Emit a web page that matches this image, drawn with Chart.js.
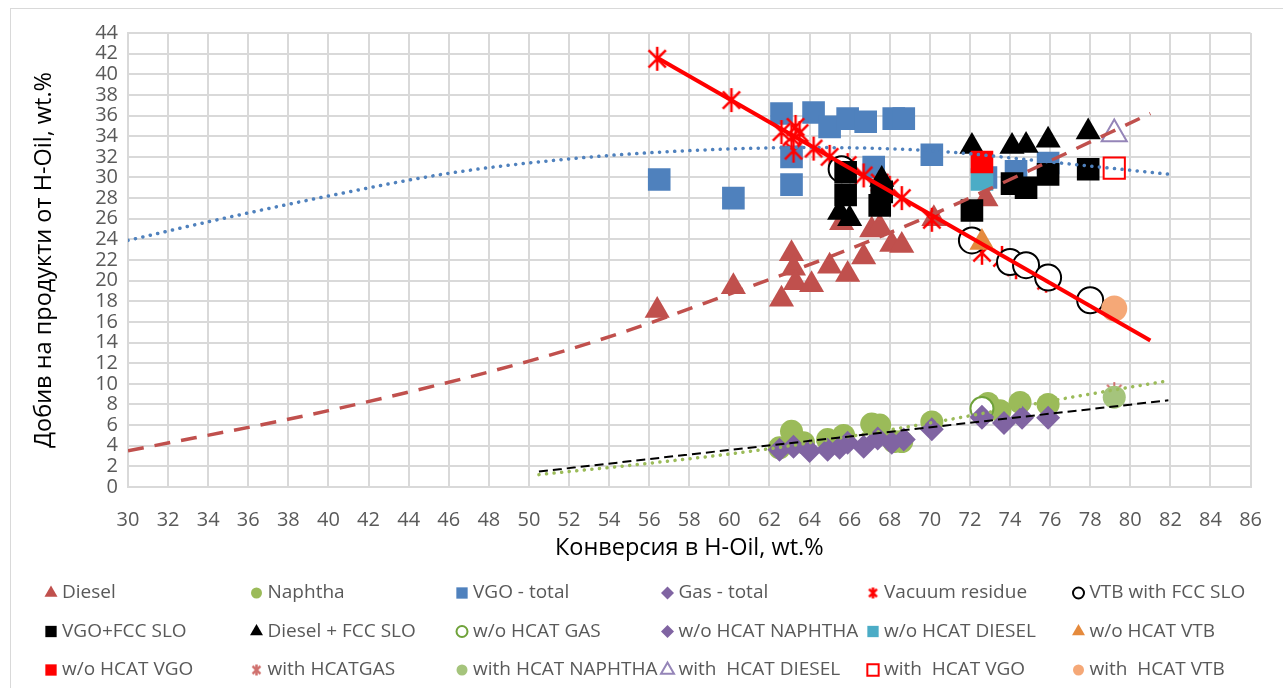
<!DOCTYPE html>
<html>
<head>
<meta charset="utf-8">
<script src="https://cdn.jsdelivr.net/npm/chart.js@4.4.1/dist/chart.umd.min.js"></script>
<style>
  html, body { margin: 0; padding: 0; background: #fff; }
</style>
</head>
<body>
<canvas id="myChart" width="1283" height="688"></canvas>
<script>
// values: conversion (x) and yield (y)
const dieselX = [56.4, 60.2, 62.6, 63.1, 63.2, 63.3, 64.1, 65.0, 65.6, 65.9, 66.7, 67.1, 67.5, 68.1, 68.6, 70.2, 72.8];
const dieselY = [17.1, 19.4, 18.2, 22.6, 21.2, 19.8, 19.6, 21.4, 25.6, 20.6, 22.3, 24.9, 25.2, 23.5, 23.4, 26.0, 27.9];

const naphthaX = [62.5, 63.1, 63.7, 64.9, 65.7, 67.1, 67.5, 68.2, 68.6, 70.1, 72.9, 73.5, 74.5, 75.9];
const naphthaY = [3.8, 5.4, 4.3, 4.6, 5.0, 6.1, 6.0, 4.4, 4.4, 6.3, 8.1, 7.4, 8.2, 8.0];

const vgoX = [56.5, 60.2, 62.6, 63.1, 63.1, 64.2, 65.0, 65.9, 66.8, 67.2, 68.2, 68.7, 70.1, 72.8, 74.3, 75.9];
const vgoY = [29.8, 28.0, 36.2, 29.3, 32.0, 36.3, 34.9, 35.7, 35.4, 31.0, 35.7, 35.7, 32.2, 30.0, 30.6, 31.4];

const gasX = [62.5, 63.2, 64.0, 64.9, 65.5, 65.9, 66.7, 67.4, 68.1, 68.7, 70.1, 72.6, 73.7, 74.6, 75.9];
const gasY = [3.6, 3.9, 3.5, 3.6, 3.8, 4.3, 3.9, 4.7, 4.3, 4.6, 5.6, 6.7, 6.2, 6.7, 6.7];

const vrX = [56.4, 60.1, 62.6, 63.1, 63.2, 63.3, 63.5, 64.2, 65.0, 65.9, 66.7, 67.5, 68.0, 68.6, 70.1, 72.6, 73.6, 74.3, 75.8];
const vrY = [41.5, 37.5, 34.4, 33.9, 32.6, 34.9, 34.3, 32.8, 32.0, 31.2, 30.2, 29.5, 29.0, 28.0, 25.9, 22.7, 22.2, 21.3, 20.0];

const vtbX = [65.6, 72.1, 74.0, 74.8, 75.9, 78.0];
const vtbY = [30.8, 23.9, 21.8, 21.5, 20.3, 18.1];

const vgoSloX = [65.8, 65.8, 67.5, 67.6, 72.1, 74.1, 74.8, 75.9, 77.9];
const vgoSloY = [30.5, 28.3, 27.3, 28.6, 26.8, 29.4, 29.0, 30.3, 30.8];

const dieselSloX = [65.5, 66.0, 67.6, 72.1, 74.1, 74.8, 75.9, 77.9];
const dieselSloY = [26.6, 26.0, 29.8, 33.0, 33.0, 33.1, 33.6, 34.4];

const woX = [72.6];
const woGasY = [7.6];
const woNaphthaY = [6.8];
const woDieselY = [29.8];
const woVtbY = [23.7];
const woVgoY = [31.5];

const withX = [79.2];
const withGasY = [9.2];
const withNaphthaY = [8.7];
const withDieselY = [34.2];
const withVgoY = [30.9];
const withVtbY = [17.3];

// trend lines, points
const trendDieselX = [30, 40, 50, 55, 60, 65, 70, 75, 81];
const trendDieselY = [3.5, 7.4, 12.2, 15.2, 18.7, 22.3, 26.3, 30.7, 36.2];
const trendVgoX = [30, 34, 40, 46, 52, 58, 64, 70, 76, 82];
const trendVgoY = [23.9, 25.7, 28.2, 30.4, 31.8, 32.6, 32.9, 32.6, 31.5, 30.3];
const trendNaphthaX = [50.5, 56, 61.6, 66, 70, 76.2, 81.9];
const trendNaphthaY = [1.2, 2.3, 3.6, 4.9, 6.2, 8.4, 10.3];
const trendGasX = [50.5, 81.9];
const trendGasY = [1.5, 8.4];
const trendVrX = [56.4, 81];
const trendVrY = [41.6, 14.2];

const FONT = "'Open Sans', 'Noto Sans', sans-serif";

function pts(xs, ys) {
  return xs.map((x, i) => ({ x: x, y: ys[i] }));
}

function asterisk(color, size, lw) {
  const c = document.createElement('canvas');
  c.width = size;
  c.height = size;
  const g = c.getContext('2d');
  g.strokeStyle = color;
  g.lineWidth = lw;
  const m = size / 2, r = size / 2 - 1, d = r * 0.72;
  g.beginPath();
  g.moveTo(m, m - r); g.lineTo(m, m + r);
  g.moveTo(m - d, m - d); g.lineTo(m + d, m + d);
  g.moveTo(m + d, m - d); g.lineTo(m - d, m + d);
  g.stroke();
  return c;
}

function marker(label, data, style, radius, fill, stroke, bw, legendStyle) {
  return {
    label: label,
    data: data,
    pointStyle: style,
    pointRadius: radius,
    backgroundColor: fill,
    borderColor: stroke,
    borderWidth: bw,
    showLine: false,
    legendStyle: legendStyle || style
  };
}

function trend(data, color, width, dash, cap) {
  return {
    label: '',
    data: data,
    showLine: true,
    pointRadius: 0,
    borderColor: color,
    borderWidth: width,
    borderDash: dash,
    borderCapStyle: cap,
    cubicInterpolationMode: 'monotone'
  };
}

const markers = [
  marker('Diesel', pts(dieselX, dieselY), 'triangle', 14.5, '#C0504D', '#C0504D', 0),
  marker('Naphtha', pts(naphthaX, naphthaY), 'circle', 11.5, '#9BBB59', '#9BBB59', 0),
  marker('VGO - total', pts(vgoX, vgoY), 'rect', 16, '#4F81BD', '#4F81BD', 0),
  marker('Gas - total', pts(gasX, gasY), 'rectRot', 12, '#8064A2', '#8064A2', 0),
  marker('Vacuum residue', pts(vrX, vrY), asterisk('#FF0000', 26, 2.5), 13, '#FF0000', '#FF0000', 0, asterisk('#FF0000', 13, 2.5)),
  marker('VTB with FCC SLO', pts(vtbX, vtbY), 'circle', 13, '#FFFFFF', '#000000', 2),
  marker('VGO+FCC SLO', pts(vgoSloX, vgoSloY), 'rect', 16, '#000000', '#000000', 0),
  marker('Diesel + FCC SLO', pts(dieselSloX, dieselSloY), 'triangle', 14.5, '#000000', '#000000', 0),
  marker('w/o HCAT GAS', pts(woX, woGasY), 'circle', 11.5, '#FFFFFF', '#6FA23A', 2),
  marker('w/o HCAT NAPHTHA', pts(woX, woNaphthaY), 'rectRot', 12, '#8064A2', '#8064A2', 0),
  marker('w/o HCAT DIESEL', pts(woX, woDieselY), 'rect', 16, '#4BACC6', '#4BACC6', 0),
  marker('w/o HCAT VTB', pts(woX, woVtbY), 'triangle', 14.5, '#E58A3C', '#E58A3C', 0),
  marker('w/o HCAT VGO', pts(woX, woVgoY), 'rect', 16, '#FF0000', '#FF0000', 0),
  marker('with HCATGAS', pts(withX, withGasY), asterisk('#D0716E', 22, 2), 11, '#D0716E', '#D0716E', 0, asterisk('#D0716E', 13, 2.5)),
  marker('with HCAT NAPHTHA', pts(withX, withNaphthaY), 'circle', 11.5, '#A5C47C', '#A5C47C', 0),
  marker('with  HCAT DIESEL', pts(withX, withDieselY), 'triangle', 14.5, '#FFFFFF', '#9585B8', 2),
  marker('with  HCAT VGO', pts(withX, withVgoY), 'rect', 15, '#FFFFFF', '#FF0000', 2),
  marker('with  HCAT VTB', pts(withX, withVtbY), 'circle', 13, '#F5A877', '#F5A877', 0)
];
markers.forEach((d, i) => { d.order = 100 - i; });

const trends = [
  trend(pts(trendDieselX, trendDieselY), '#C0504D', 3.5, [16, 11], 'butt'),
  trend(pts(trendNaphthaX, trendNaphthaY), '#9BBB59', 3.5, [0.1, 7.5], 'round'),
  trend(pts(trendVgoX, trendVgoY), '#4F81BD', 3.5, [0.1, 7.5], 'round'),
  trend(pts(trendGasX, trendGasY), '#000000', 2, [9, 5], 'butt'),
  trend(pts(trendVrX, trendVrY), '#FF0000', 4, [], 'butt')
];
trends.forEach((d, i) => { d.order = 10 - i; });

// legend drawn as a 6-column grid under the plot
const gridLegend = {
  id: 'gridLegend',
  beforeDraw(chart) {
    const ctx = chart.ctx;
    ctx.save();
    ctx.strokeStyle = '#D9D9D9';
    ctx.lineWidth = 1;
    ctx.strokeRect(10.5, 8.5, 1400, 800);
    ctx.restore();
  },
  afterDraw(chart) {
    const ctx = chart.ctx;
    const sizes = { triangle: 7.5, circle: 5.5, rect: 8, rectRot: 6.5 };
    ctx.save();
    ctx.font = '19px ' + FONT;
    ctx.textBaseline = 'middle';
    ctx.textAlign = 'left';
    markers.forEach((d, i) => {
      const col = i % 6, row = Math.floor(i / 6);
      const mx = 51 + col * 205.5;
      const my = 593 + row * 38.5;
      const st = d.legendStyle;
      ctx.fillStyle = d.backgroundColor;
      ctx.strokeStyle = d.borderColor;
      ctx.lineWidth = d.borderWidth;
      Chart.helpers.drawPoint(ctx, {
        pointStyle: st,
        radius: typeof st === 'string' ? sizes[st] : 6,
        borderWidth: d.borderWidth,
        rotation: 0
      }, mx, my);
      ctx.fillStyle = '#595959';
      ctx.fillText(d.label, mx + 11, my);
    });
    ctx.restore();
  }
};

const config = {
  type: 'scatter',
  data: { datasets: markers.concat(trends) },
  options: {
    responsive: false,
    animation: false,
    events: [],
    layout: { padding: { left: 12, right: 24, top: 33, bottom: 123 } },
    plugins: {
      legend: { display: false },
      tooltip: { enabled: false }
    },
    scales: {
      x: {
        type: 'linear',
        min: 30,
        max: 86,
        afterFit: (s) => { s.height = 78; },
        ticks: { stepSize: 2, autoSkip: false, padding: 21, color: '#595959', font: { family: FONT, size: 20 } },
        grid: { color: '#D9D9D9', lineWidth: 2, drawTicks: false },
        border: { color: '#D9D9D9', width: 2 },
        title: {
          display: true,
          text: 'Конверсия в H-Oil, wt.%',
          color: '#000000',
          font: { family: FONT, size: 23.5 },
          padding: { top: 0, bottom: 3 }
        }
      },
      y: {
        type: 'linear',
        min: 0,
        max: 44,
        afterFit: (s) => { s.width = 116; },
        ticks: { stepSize: 2, autoSkip: false, padding: 10, color: '#595959', font: { family: FONT, size: 20, lineHeight: 1 } },
        grid: { color: '#D9D9D9', lineWidth: 2, drawTicks: false },
        border: { color: '#D9D9D9', width: 2 },
        title: {
          display: true,
          text: 'Добив на продукти от H-Oil, wt.%',
          color: '#000000',
          font: { family: FONT, size: 23.5 },
          padding: { top: 18, bottom: 0 }
        }
      }
    }
  },
  plugins: [gridLegend]
};

const ctx = document.getElementById('myChart').getContext('2d');
const myChart = new Chart(ctx, config);
</script>
</body>
</html>
